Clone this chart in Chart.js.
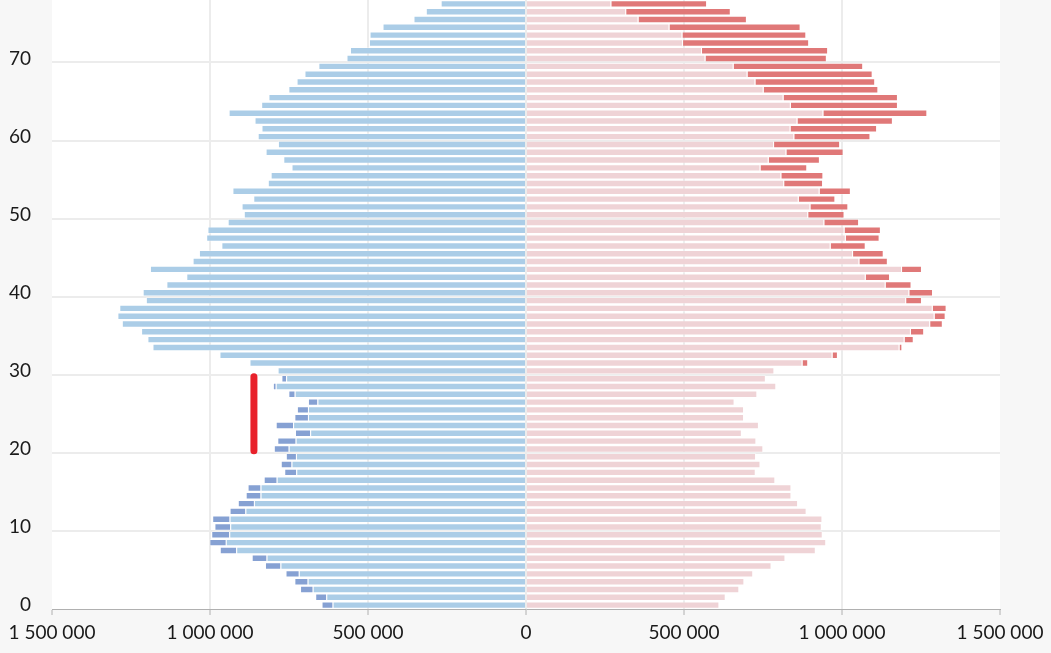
<!DOCTYPE html>
<html>
<head>
<meta charset="utf-8">
<script src="https://cdn.jsdelivr.net/npm/chart.js@4.4.1/dist/chart.umd.min.js"></script>
<style>
  html, body { margin: 0; padding: 0; background: #f7f7f7; }
  #wrap { width: 1051px; height: 653px; }
</style>
</head>
<body>
<div id="wrap"><canvas id="pyramid"></canvas></div>
<script>
const ages = [
  0, 1, 2, 3, 4, 5, 6, 7, 8, 9,
  10, 11, 12, 13, 14, 15, 16, 17, 18, 19,
  20, 21, 22, 23, 24, 25, 26, 27, 28, 29,
  30, 31, 32, 33, 34, 35, 36, 37, 38, 39,
  40, 41, 42, 43, 44, 45, 46, 47, 48, 49,
  50, 51, 52, 53, 54, 55, 56, 57, 58, 59,
  60, 61, 62, 63, 64, 65, 66, 67, 68, 69,
  70, 71, 72, 73, 74, 75, 76, 77,
];

const male = [
  647000, 667000, 715000, 733000, 761000, 826000, 868000, 969000, 1002000, 996000,
  986000, 993000, 938000, 912000, 887000, 881000, 830000, 765000, 776000, 760000,
  798000, 787000, 731000, 792000, 733000, 725000, 690000, 752000, 801000, 774000,
  786000, 875000, 970000, 1182000, 1198000, 1218000, 1279000, 1293000, 1287000, 1203000,
  1213000, 1138000, 1075000, 1190000, 1055000, 1035000, 964000, 1012000, 1008000, 944000,
  893000, 900000, 863000, 929000, 817000, 808000, 742000, 768000, 824000, 785000,
  849000, 837000, 859000, 941000, 838000, 815000, 752000, 726000, 701000, 657000,
  568000, 557000, 497000, 495000, 454000, 356000, 317000, 270000,
];

const female = [
  612000, 632000, 675000, 691000, 719000, 777000, 821000, 917000, 950000, 939000,
  936000, 938000, 888000, 861000, 840000, 840000, 789000, 727000, 742000, 728000,
  751000, 729000, 683000, 737000, 690000, 690000, 660000, 732000, 792000, 759000,
  786000, 893000, 987000, 1191000, 1227000, 1260000, 1319000, 1328000, 1331000, 1253000,
  1288000, 1220000, 1152000, 1253000, 1145000, 1132000, 1075000, 1119000, 1123000, 1054000,
  1008000, 1020000, 979000, 1028000, 940000, 941000, 890000, 930000, 1005000, 994000,
  1090000, 1111000, 1161000, 1270000, 1177000, 1177000, 1115000, 1105000, 1097000, 1067000,
  952000, 956000, 896000, 887000, 869000, 699000, 648000, 573000,
];

// red marker on the male side
const markValue = 861000;
const markFrom = 20;
const markTo = 29;

const axisMax = 1500000;
const axisStep = 500000;

// shared part and surplus of each sex
const maleShared = male.map((m, i) => -Math.min(m, female[i]));
const maleSurplus = male.map((m, i) => -Math.max(0, m - female[i]));
const femaleShared = female.map((f, i) => Math.min(f, male[i]));
const femaleSurplus = female.map((f, i) => Math.max(0, f - male[i]));

const font = { family: "Lato", size: 19 };
const fmt = (v) => Math.abs(v).toString().replace(/\B(?=(\d{3})+(?!\d))/g, " ");

const plotBackground = {
  id: "plotBackground",
  beforeDraw(chart) {
    const { ctx, chartArea: a } = chart;
    ctx.save();
    ctx.fillStyle = "#ffffff";
    ctx.fillRect(a.left, a.top, a.right - a.left, a.bottom - a.top);
    ctx.restore();
  },
};

const marker = {
  id: "marker",
  afterDatasetsDraw(chart) {
    const { ctx, scales } = chart;
    const x = scales.x.getPixelForValue(-markValue);
    const i0 = ages.indexOf(markFrom);
    const i1 = ages.indexOf(markTo);
    const half = Math.abs(scales.y.getPixelForValue(1) - scales.y.getPixelForValue(0)) / 2;
    const yBottom = scales.y.getPixelForValue(i0) + half - 2;
    const yTop = scales.y.getPixelForValue(i1) - half + 2;
    ctx.save();
    ctx.strokeStyle = "#e8212b";
    ctx.lineWidth = 7;
    ctx.lineCap = "round";
    ctx.beginPath();
    ctx.moveTo(x, yTop);
    ctx.lineTo(x, yBottom);
    ctx.stroke();
    ctx.restore();
  },
};

const barStyle = {
  barPercentage: 0.95,
  categoryPercentage: 1,
  borderWidth: 1,
  borderColor: "rgba(255,255,255,0.3)",
};

const noPadding = (s) => {
  s.paddingTop = 0;
  s.paddingBottom = 0;
  s.paddingLeft = 0;
  s.paddingRight = 0;
};

new Chart(document.getElementById("pyramid"), {
  type: "bar",
  data: {
    labels: ages,
    datasets: [
      { data: maleShared, backgroundColor: "#abcde7", ...barStyle },
      { data: maleSurplus, backgroundColor: "#86a1d3", ...barStyle },
      { data: femaleShared, backgroundColor: "#efd3d6", ...barStyle },
      { data: femaleSurplus, backgroundColor: "#e07878", ...barStyle },
    ],
  },
  options: {
    indexAxis: "y",
    responsive: true,
    maintainAspectRatio: false,
    animation: false,
    layout: { padding: { top: 0, right: 51, bottom: 0, left: 0 } },
    plugins: {
      legend: { display: false },
      tooltip: { enabled: false },
    },
    scales: {
      x: {
        stacked: true,
        min: -axisMax,
        max: axisMax,
        ticks: {
          stepSize: axisStep,
          callback: fmt,
          font: font,
          color: "#1a1a1a",
          padding: 6,
          maxRotation: 0,
        },
        grid: {
          color: (c) => (c.tick && Math.abs(c.tick.value) === axisMax ? "transparent" : "#ececec"),
          lineWidth: 2,
          tickColor: "#b0b0b0",
          tickLength: 6,
          tickWidth: 1,
        },
        border: { color: "#b0b0b0", width: 1 },
        afterFit: (s) => { noPadding(s); s.height = 44; },
      },
      y: {
        stacked: true,
        reverse: true,
        ticks: {
          autoSkip: false,
          callback: (v, i) => (ages[i] % 10 === 0 ? ages[i] : ""),
          font: font,
          color: "#1a1a1a",
          padding: 21,
        },
        grid: {
          offset: true,
          drawTicks: false,
          lineWidth: 2,
          color: (c) => (c.index > 0 && ages[c.index] % 10 === 0 ? "#ececec" : "transparent"),
        },
        border: { display: false },
        afterFit: (s) => { noPadding(s); s.width = 52; },
      },
    },
  },
  plugins: [plotBackground, marker],
});
</script>
</body>
</html>
